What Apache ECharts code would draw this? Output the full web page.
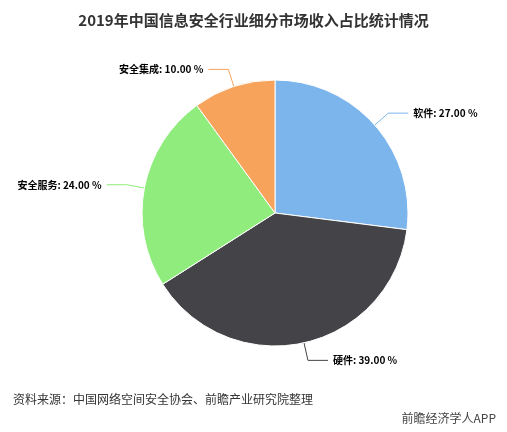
<!DOCTYPE html>
<html>
<head>
<meta charset="utf-8">
<script src="https://cdn.jsdelivr.net/npm/echarts@6/dist/echarts.min.js"></script>
<style>html,body{margin:0;padding:0;background:#fff}#chart-container{width:507px;height:432px}</style>
</head>
<body>
<div id="chart-container"></div>
<script>
var names = ["软件", "硬件", "安全服务", "安全集成"];
var values = [27, 39, 24, 10];
var colors = ["#7cb5ec", "#434348", "#90ed7d", "#f7a35c"];

var myChart = echarts.init(document.getElementById("chart-container"), null, { renderer: "canvas" });
var option = {
  animation: false,
  title: [
    {
      text: "2019年中国信息安全行业细分市场收入占比统计情况",
      left: "center", top: 8,
      textStyle: { fontSize: 15, fontWeight: "bold", color: "#333", fontFamily: "Noto Sans CJK SC" }
    },
    {
      text: "资料来源：中国网络空间安全协会、前瞻产业研究院整理",
      left: 8, top: 388,
      textStyle: { fontSize: 12, fontWeight: "normal", color: "#333", fontFamily: "Noto Sans CJK SC" }
    },
    {
      text: "前瞻经济学人APP",
      right: 6, top: 407,
      textStyle: { fontSize: 12, fontWeight: "normal", color: "#444", fontFamily: "Noto Sans CJK SC" }
    }
  ],
  series: [{
    type: "pie",
    center: [275, 213],
    radius: [0, 133],
    startAngle: 90,
    clockwise: true,
    itemStyle: { borderColor: "#fff", borderWidth: 1 },
    label: {
      formatter: function (p) { return p.name + ": " + p.value.toFixed(2) + " %"; },
      fontSize: 10, fontWeight: "bold", color: "#000", fontFamily: "Noto Sans CJK SC"
    },
    labelLine: { length: 18, length2: 20, lineStyle: { width: 1 } },
    data: names.map(function (n, i) {
      return { name: n, value: values[i], itemStyle: { color: colors[i] }, labelLine: { lineStyle: { color: colors[i] } } };
    })
  }]
};
myChart.setOption(option);
window.addEventListener("resize", myChart.resize);
</script>
</body>
</html>
